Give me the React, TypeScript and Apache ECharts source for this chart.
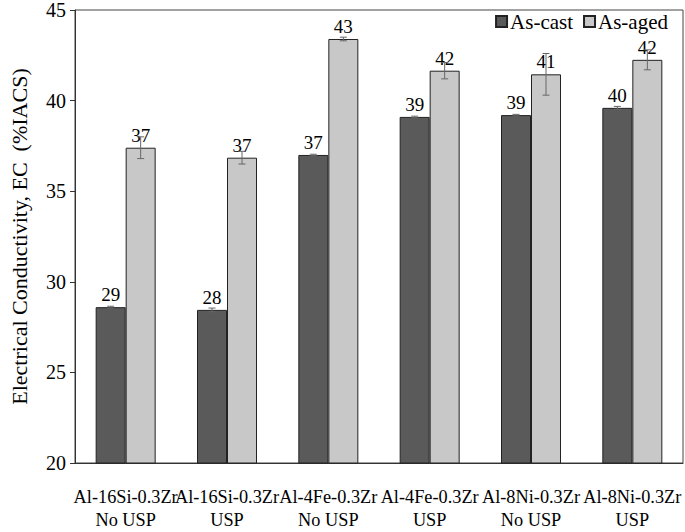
import React, { useEffect, useRef } from "react";
import * as echarts from "echarts";

const categories = [
  "Al-16Si-0.3Zr\nNo USP",
  "Al-16Si-0.3Zr\nUSP",
  "Al-4Fe-0.3Zr\nNo USP",
  "Al-4Fe-0.3Zr\nUSP",
  "Al-8Ni-0.3Zr\nNo USP",
  "Al-8Ni-0.3Zr\nUSP",
];
const asCast = [28.6, 28.45, 37.0, 39.1, 39.2, 39.6];
const asCastErr = [0.05, 0.1, 0.04, 0.04, 0.04, 0.08];
const asAged = [37.4, 36.85, 43.4, 41.65, 41.45, 42.25];
const asAgedErr = [0.6, 0.35, 0.1, 0.45, 1.15, 0.55];
const yTicks = { min: 20, max: 45, interval: 5 };

const FONT = "Liberation Serif";
const BAR_W = 30;

function errorSeries(values: number[], errs: number[], offset: number) {
  return {
    type: "custom",
    coordinateSystem: "cartesian2d",
    z: 10,
    silent: true,
    data: values.map((v, i) => [i, v, errs[i]]),
    renderItem: (params: any, api: any) => {
      const x = api.value(0);
      const y = api.value(1);
      const e = api.value(2);
      const hi = api.coord([x, y + e]);
      const lo = api.coord([x, y - e]);
      const cx = hi[0] + offset;
      const cap = 3.5;
      const style = { stroke: "#666", lineWidth: 1 };
      return {
        type: "group",
        children: [
          { type: "line", shape: { x1: cx, y1: hi[1], x2: cx, y2: lo[1] }, style },
          { type: "line", shape: { x1: cx - cap, y1: hi[1], x2: cx + cap, y2: hi[1] }, style },
          { type: "line", shape: { x1: cx - cap, y1: lo[1], x2: cx + cap, y2: lo[1] }, style },
        ],
      };
    },
  };
}

export default function App() {
  const ref = useRef<HTMLDivElement>(null);
  useEffect(() => {
    if (!ref.current) return;
    const chart = echarts.init(ref.current, null, { renderer: "svg" });
    const labelCfg = {
      show: true,
      position: "top",
      distance: 3,
      color: "#000",
      fontFamily: FONT,
      fontSize: 19,
      formatter: (p: any) => String(Math.round(p.value)),
    };
    chart.setOption({
      animation: false,
      backgroundColor: "#fff",
      textStyle: { fontFamily: FONT },
      grid: {
        left: 58,
        right: 2,
        top: 9,
        bottom: 69,
        show: true,
        borderColor: "#444",
        borderWidth: 1,
      },
      legend: {
        data: ["As-cast", "As-aged"],
        right: 12,
        top: 6,
        itemWidth: 11,
        itemHeight: 11,
        itemGap: 10,
        icon: "rect",
        textStyle: { fontFamily: FONT, fontSize: 21, color: "#000", padding: [0, 0, 0, -2] },
      },
      xAxis: {
        type: "category",
        data: categories,
        axisLine: { lineStyle: { color: "#333" } },
        axisTick: { show: false },
        axisLabel: {
          interval: 0,
          color: "#000",
          fontFamily: FONT,
          fontSize: 18.3,
          lineHeight: 23,
          margin: 22,
        },
      },
      yAxis: {
        type: "value",
        min: yTicks.min,
        max: yTicks.max,
        interval: yTicks.interval,
        name: "Electrical Conductivity, EC  (%IACS)",
        nameLocation: "middle",
        nameGap: 45,
        nameTextStyle: { fontFamily: FONT, fontSize: 22, color: "#000" },
        axisLine: { show: true, lineStyle: { color: "#333" } },
        axisTick: { show: true, length: 5, lineStyle: { color: "#333" } },
        axisLabel: { color: "#000", fontFamily: FONT, fontSize: 20, margin: 9 },
        splitLine: { show: false },
      },
      series: [
        {
          name: "As-cast",
          type: "bar",
          data: asCast,
          barWidth: BAR_W,
          barGap: "0%",
          itemStyle: { color: "#5a5a5a", borderColor: "#222", borderWidth: 1 },
          label: labelCfg,
        },
        {
          name: "As-aged",
          type: "bar",
          data: asAged,
          barWidth: BAR_W,
          barGap: "0%",
          itemStyle: { color: "#c8c8c8", borderColor: "#222", borderWidth: 1 },
          label: labelCfg,
        },
        errorSeries(asCast, asCastErr, -BAR_W / 2),
        errorSeries(asAged, asAgedErr, BAR_W / 2),
      ],
    });
    return () => chart.dispose();
  }, []);
  return (
    <div
      ref={ref}
      style={{ position: "fixed", left: 0, top: 0, width: 685, height: 532 }}
    />
  );
}
